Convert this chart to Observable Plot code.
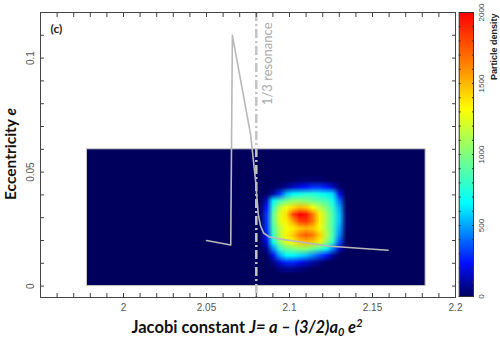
<!DOCTYPE html>
<html><head><meta charset="utf-8">
<script src="https://cdn.jsdelivr.net/npm/d3@7"></script>
<script src="https://cdn.jsdelivr.net/npm/@observablehq/plot@0.6"></script>
<style>
html,body{margin:0;padding:0;background:#fff;}
#wrap{position:relative;width:500px;height:341px;overflow:hidden;}
#wrap svg{position:absolute;top:0;}
</style></head><body><div id="wrap"></div>
<script>
// ---- tick labels ----
const xTicks = [2, 2.05, 2.1, 2.15, 2.2];
const yTicks = [0, 0.05, 0.1];
const xMinor = d3.range(196, 220).map(d => d / 100);
const yMinor = d3.range(0, 13).map(d => d / 100);
const cbTicks = [0, 500, 1000, 1500, 2000];
const cbMinor = d3.range(0, 21).map(d => d * 100);

// ---- simulated region (background of the density map) ----
const regionJ = [1.978, 2.182];
const regionE = [0, 0.06];

// ---- particle density grid (rows top->bottom: e 0.048..0.006; cols J 2.076..2.140) ----
const gridJ = [2.076, 2.140];
const gridE = [0.048, 0.006];
const gridCols = 16, gridRows = 14;
const density = [
  0,0,0,0,0,0,10,20,20,20,20,10,0,0,0,0,
  0,0,0,0,30,80,150,200,250,300,300,250,150,30,0,0,
  0,0,0,100,300,550,650,700,750,750,700,650,600,200,0,0,
  0,0,150,650,850,950,1050,1050,1000,950,900,850,700,400,0,0,
  0,0,250,800,1150,1300,1400,1500,1450,1300,1150,1000,800,500,0,0,
  0,0,300,900,1250,1400,1800,2000,1950,1650,1350,1100,850,550,30,0,
  0,0,300,900,1250,1350,1550,1800,1850,1650,1350,1100,850,550,30,0,
  0,0,300,850,1150,1300,1350,1450,1500,1450,1300,1100,850,500,30,0,
  0,0,250,800,1150,1350,1450,1650,1750,1650,1450,1150,850,450,0,0,
  0,0,200,700,1050,1250,1350,1450,1500,1450,1350,1050,800,350,0,0,
  0,0,80,450,800,950,1000,1050,1050,950,850,700,450,150,0,0,
  0,0,0,200,500,650,650,600,550,450,350,250,80,0,0,0,
  0,0,0,50,180,280,280,220,160,100,50,0,0,0,0,0,
  0,0,0,0,40,60,60,40,20,0,0,0,0,0,0,0
];

// ---- gray trajectory curve ----
const curveJ = [2.050, 2.0646, 2.0656, 2.0766, 2.0796, 2.0812, 2.0825, 2.0844, 2.088, 2.0946, 2.1246, 2.1594];
const curveE = [0.0200, 0.0180, 0.1100, 0.0663, 0.0459, 0.0315, 0.0265, 0.0233, 0.0215, 0.0206, 0.0175, 0.0157];

// ---- 1/3 resonance ----
const resonanceJ = [2.08];
const resonanceLabel = "1/3 resonance";
const panelLabel = "(c)";

// jet-like colour map
const jetStops = [0, 0.12, 0.33, 0.5, 0.66, 0.82, 1];
const jetColors = ["#00005c", "#0010ff", "#00ffff", "#7fff7f", "#ffff00", "#ff8000", "#ff0000"];
const jetScale = d3.scaleLinear().domain(jetStops).range(jetColors).interpolate(d3.interpolateRgb).clamp(true);
const jet = t => jetScale(t);
const colorOpt = {type: "linear", domain: [0, 2000], interpolate: jet};

const curve = curveJ.map((J, i) => ({J, e: curveE[i]}));
const region = [{J1: regionJ[0], J2: regionJ[1], e1: regionE[0], e2: regionE[1]}];

const W = 500, H = 341;
const M = {l: 40, r: 45, t: 12, b: 44};

const main = Plot.plot({
  width: W, height: H,
  marginLeft: M.l, marginRight: M.r, marginTop: M.t, marginBottom: M.b,
  x: {domain: [1.95, 2.2]},
  y: {domain: [-0.005, 0.12]},
  color: colorOpt,
  style: {fontFamily: "'Liberation Sans', Arial, sans-serif", fontSize: "10px", background: "transparent", overflow: "visible"},
  marks: [
    Plot.rect(region, {x1: "J1", x2: "J2", y1: "e1", y2: "e2", fill: jet(0), stroke: "#c8c8c8", strokeWidth: 1}),
    Plot.raster(density, {width: gridCols, height: gridRows, x1: gridJ[0], x2: gridJ[1], y1: gridE[0], y2: gridE[1], fill: d => d, imageRendering: "auto"}),
    Plot.ruleX(resonanceJ, {x: d => d, stroke: "#c4c4c4", strokeWidth: 2.5, strokeDasharray: "9,3,2,3"}),
    Plot.line(curve, {x: "J", y: "e", stroke: "#b8b8b8", strokeWidth: 1.6}),
    Plot.text(resonanceJ, {x: d => d, frameAnchor: "top", text: () => resonanceLabel, rotate: -90, textAnchor: "end", lineAnchor: "middle", dx: 12, dy: 10, fill: "#aaaaaa", fontSize: 13, fontFamily: "Lato, sans-serif"}),
    Plot.text([panelLabel], {frameAnchor: "top-left", text: d => d, dx: 10, dy: 12, fontWeight: "bold", fontSize: 12, fill: "#222", fontFamily: "Lato, sans-serif"}),
    Plot.frame({stroke: "#444"}),
    Plot.axisX(xMinor, {anchor: "bottom", tickSize: -4, text: null, label: null, stroke: "#444"}),
    Plot.axisX(xMinor, {anchor: "top", tickSize: -4, text: null, label: null, stroke: "#444"}),
    Plot.axisY(yMinor, {anchor: "left", tickSize: -4, text: null, label: null, stroke: "#444"}),
    Plot.axisY(yMinor, {anchor: "right", tickSize: -4, text: null, label: null, stroke: "#444"}),
    Plot.axisX(xTicks, {anchor: "bottom", tickSize: 0, tickPadding: 6, label: null, fill: "#555", fontSize: 10, tickFormat: d => String(d)}),
    Plot.text(yTicks, {y: d => d, text: d => String(d), frameAnchor: "left", rotate: -90, textAnchor: "middle", lineAnchor: "middle", dx: -10, fill: "#555", fontSize: 10})
  ]
});
main.style.left = "0px";

// axis titles with mixed styles
const svg = d3.select(main);
const xl = svg.append("text")
  .attr("x", 247).attr("y", 333)
  .attr("text-anchor", "middle")
  .attr("font-family", "Lato, sans-serif").attr("font-weight", "bold").attr("font-size", 16.5).attr("fill", "#111");
xl.append("tspan").text("Jacobi constant ");
xl.append("tspan").attr("font-style", "italic").text("J= a \u2013 (3/2)a");
xl.append("tspan").attr("font-style", "italic").attr("font-size", 11).attr("dy", 3).text("0");
xl.append("tspan").attr("font-style", "italic").attr("dy", -3).text(" e");
xl.append("tspan").attr("font-style", "italic").attr("font-size", 11).attr("dy", -6).text("2");

const yl = svg.append("text")
  .attr("transform", "translate(16,154) rotate(-90)")
  .attr("text-anchor", "middle")
  .attr("font-family", "Lato, sans-serif").attr("font-weight", "bold").attr("font-size", 15.5).attr("fill", "#111");
yl.append("tspan").text("Eccentricity ");
yl.append("tspan").attr("font-style", "italic").text("e");

// colour bar
const cb = Plot.plot({
  width: 46, height: H,
  marginLeft: 4.7, marginRight: 27, marginTop: M.t, marginBottom: M.b + 1,
  x: {domain: [0, 1], axis: null},
  y: {domain: [0, 2000], axis: null},
  color: colorOpt,
  style: {fontFamily: "'Liberation Sans', Arial, sans-serif", background: "transparent", overflow: "visible"},
  marks: [
    Plot.raster({fill: (x, y) => y, x1: 0, x2: 1, y1: 0, y2: 2000, pixelSize: 1}),
    Plot.frame({stroke: "#333"}),
    Plot.axisY(cbMinor, {anchor: "left", tickSize: -2, text: null, label: null, stroke: "#333"}),
    Plot.axisY(cbMinor, {anchor: "right", tickSize: -2, text: null, label: null, stroke: "#333"}),
    Plot.text(cbTicks, {y: d => d, text: d => String(d), frameAnchor: "right", rotate: -90, textAnchor: "middle", lineAnchor: "middle", dx: 8, fontSize: 8, fill: "#444"}),
    Plot.text(["Particle density"], {frameAnchor: "top-right", text: d => d, rotate: -90, textAnchor: "end", lineAnchor: "middle", dx: 21, dy: 1, fontSize: 9, fontWeight: 600, fill: "#222"})
  ]
});
cb.style.left = "454px";

const wrap = document.getElementById("wrap");
wrap.appendChild(main);
wrap.appendChild(cb);
</script></body></html>
